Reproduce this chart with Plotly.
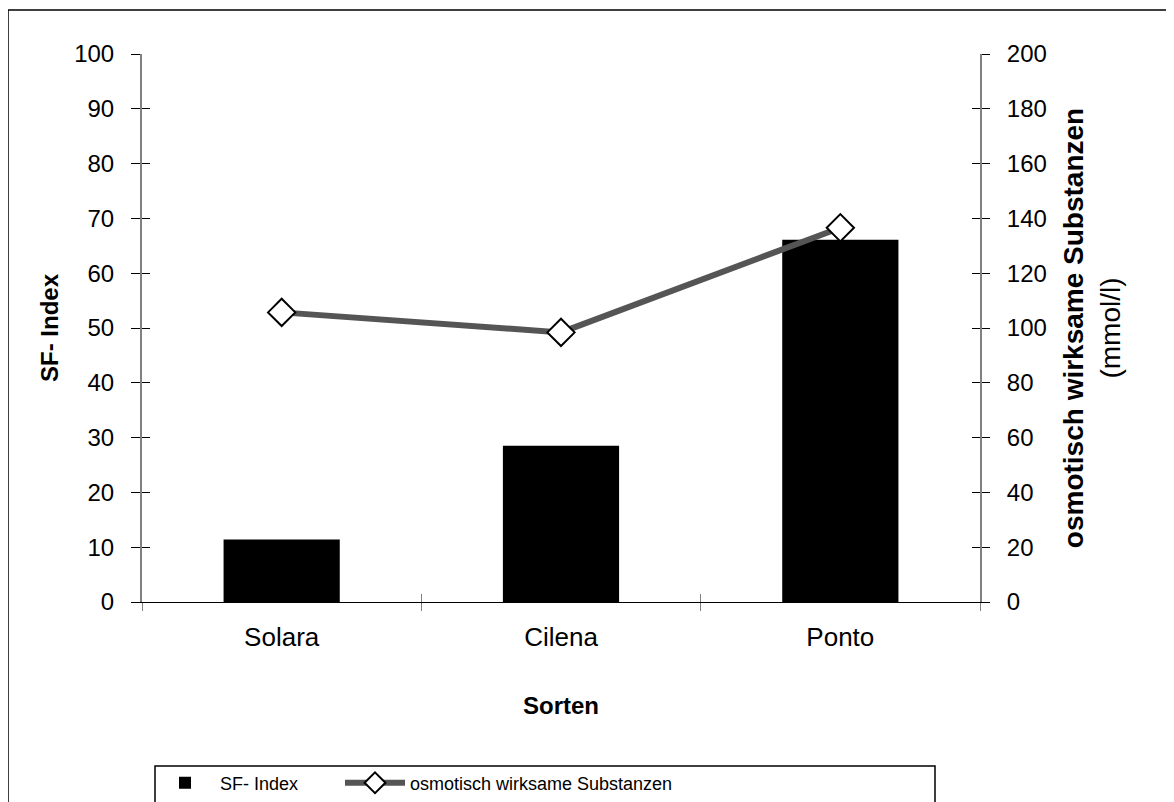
import plotly.graph_objects as go

categories = ["Solara", "Cilena", "Ponto"]
sf_index = [11.4, 28.5, 66.1]
osmotic = [105.7, 98.4, 136.6]

left_ticks = list(range(0, 101, 10))
right_ticks = list(range(0, 201, 20))
boundary_ticks = [-0.5, 0.5, 1.5, 2.5]

FONT = "Liberation Sans, Arial, sans-serif"

W, H = 1174, 802
OFF = 8  # page body margin offset in the screenshot
# target plot area in screenshot pixels
L, R, T, B = 142, 980, 54, 602


def px_x(p):
    return (p - L) / (R - L)


def px_y(p):
    return (B - p) / (B - T)


fig = go.Figure()
fig.add_trace(go.Bar(
    x=categories, y=sf_index, name="SF- Index",
    marker=dict(color="black", line=dict(width=0)),
    xaxis="x", yaxis="y", legend="legend",
))
fig.add_trace(go.Scatter(
    x=categories, y=osmotic, name="osmotisch wirksame Substanzen",
    mode="lines+markers",
    line=dict(color="#555555", width=6),
    marker=dict(symbol="diamond", size=21, color="white",
                line=dict(color="black", width=2)),
    xaxis="x", yaxis="y2", legend="legend2",
))
# transparent carriers so the crossing (inside) tick axes get drawn
fig.add_trace(go.Scatter(
    x=[0, 1, 2], y=sf_index, mode="markers", marker=dict(opacity=0),
    hoverinfo="skip", showlegend=False, xaxis="x2", yaxis="y3",
))
fig.add_trace(go.Scatter(
    x=[0, 1, 2], y=osmotic, mode="markers", marker=dict(opacity=0),
    hoverinfo="skip", showlegend=False, xaxis="x2", yaxis="y4",
))

legend_common = dict(
    orientation="h", yanchor="middle", xanchor="left",
    font=dict(family=FONT, size=18, color="black"),
    bgcolor="rgba(0,0,0,0)", borderwidth=0, itemwidth=60,
)

fig.update_layout(
    width=W, height=H,
    margin=dict(l=L - OFF, r=W - (R - OFF), t=T - OFF, b=H - (B - OFF), pad=0,
                autoexpand=False),
    paper_bgcolor="white", plot_bgcolor="white",
    font=dict(family=FONT, size=24, color="black"),
    bargap=0.584,
    showlegend=True,
    legend=dict(x=px_x(150), y=px_y(783), **legend_common),
    legend2=dict(x=px_x(340), y=px_y(783), **legend_common),
    xaxis=dict(
        type="category", categoryorder="array", categoryarray=categories,
        range=[-0.5, 2.5],
        showline=True, linecolor="black", linewidth=1,
        ticks="outside", ticklen=8, tickcolor="#808080", tickwidth=1,
        tickson="boundaries", showgrid=False, zeroline=False,
        tickfont=dict(size=26), ticklabelstandoff=12,
        title=dict(text="<b>Sorten</b>", font=dict(size=24), standoff=45),
    ),
    xaxis2=dict(
        overlaying="x", anchor="y", side="bottom", range=[-0.5, 2.5],
        tickvals=boundary_ticks, ticks="inside", ticklen=8,
        tickcolor="#808080", tickwidth=1, showticklabels=False,
        showline=False, showgrid=False, zeroline=False,
    ),
    yaxis=dict(
        range=[0, 100], tickvals=left_ticks,
        showline=True, linecolor="#808080", linewidth=2,
        ticks="outside", ticklen=9, tickcolor="black", tickwidth=1,
        showgrid=False, zeroline=False,
        tickfont=dict(size=24), ticklabelstandoff=12,
        title=dict(text="<b>SF- Index</b>", font=dict(size=24), standoff=9),
    ),
    yaxis2=dict(
        overlaying="y", side="right", anchor="x", range=[0, 200], tickvals=right_ticks,
        showline=True, linecolor="#808080", linewidth=2,
        ticks="outside", ticklen=8, tickcolor="black", tickwidth=1,
        showgrid=False, zeroline=False,
        tickfont=dict(size=24), ticklabelstandoff=12,
        title=dict(text="<b>osmotisch wirksame Substanzen</b><br>(mmol/l)",
                   font=dict(size=28), standoff=18),
    ),
    yaxis3=dict(
        overlaying="y", side="left", anchor="x", range=[0, 100], tickvals=left_ticks,
        ticks="inside", ticklen=8, tickcolor="black", tickwidth=1,
        showticklabels=False, showline=False, showgrid=False, zeroline=False,
    ),
    yaxis4=dict(
        overlaying="y", side="right", anchor="x", range=[0, 200], tickvals=right_ticks,
        ticks="inside", ticklen=8, tickcolor="black", tickwidth=1,
        showticklabels=False, showline=False, showgrid=False, zeroline=False,
    ),
    shapes=[
        dict(type="rect", xref="paper", yref="paper",
             x0=px_x(8), x1=px_x(1200), y0=px_y(830), y1=px_y(10),
             line=dict(color="black", width=1.5), fillcolor="rgba(0,0,0,0)", layer="below"),
        dict(type="rect", xref="paper", yref="paper",
             x0=px_x(155), x1=px_x(935), y0=px_y(830), y1=px_y(766),
             line=dict(color="black", width=1.5), fillcolor="rgba(0,0,0,0)", layer="below"),
    ],
)

fig.write_html("out.html")
